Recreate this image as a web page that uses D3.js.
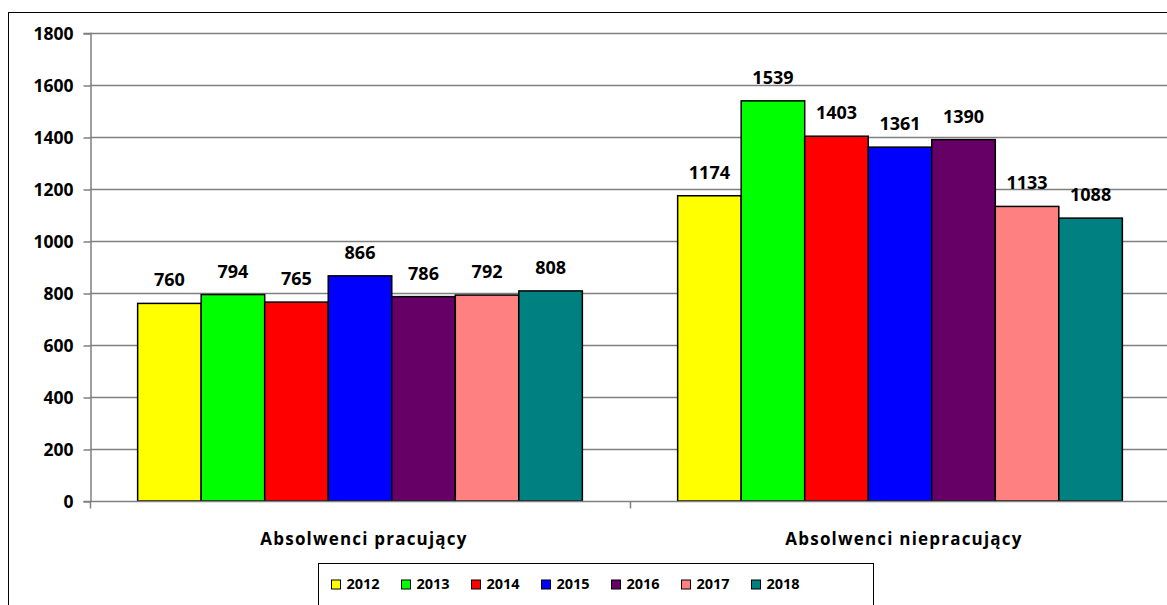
<!DOCTYPE html>
<html>
<head>
<meta charset="utf-8">
<script src="https://cdn.jsdelivr.net/npm/d3@7"></script>
<style>
  html, body { margin: 0; padding: 0; background: #fff; }
  svg { display: block; }
  text { font-family: "Open Sans", Lato, sans-serif; font-weight: bold; fill: #000; }
</style>
</head>
<body>
<svg id="chart" width="1167" height="605"></svg>
<script>
// Graduates by employment status, 2012–2018
const categories = ["Absolwenci pracujący", "Absolwenci niepracujący"];
const years = ["2012", "2013", "2014", "2015", "2016", "2017", "2018"];
const employed = [760, 794, 765, 866, 786, 792, 808];
const unemployed = [1174, 1539, 1403, 1361, 1390, 1133, 1088];
const colors = ["#FFFF00", "#00FF00", "#FF0000", "#0000FF", "#660066", "#FF8080", "#008080"];
const yTicks = [0, 200, 400, 600, 800, 1000, 1200, 1400, 1600, 1800];

const seriesByCategory = [employed, unemployed];

const svg = d3.select("#chart");

// outer frame
svg.append("rect")
  .attr("x", 8.5).attr("y", 12.5)
  .attr("width", 1200).attr("height", 700)
  .attr("fill", "none").attr("stroke", "#000").attr("stroke-width", 1);

const plotLeft = 90, plotRight = 1170, plotTop = 33, plotBottom = 501;

const y = d3.scaleLinear().domain([0, 1800]).range([plotBottom, plotTop]);
const x0 = d3.scaleBand().domain(categories).range([plotLeft, plotRight]).paddingInner(0).paddingOuter(0);
const x1 = d3.scaleBand().domain(years)
  .range([0, x0.bandwidth()])
  .paddingInner(0)
  .paddingOuter(0.75);

// horizontal gridlines
svg.append("g")
  .selectAll("line")
  .data(yTicks.filter(d => d > 0))
  .join("line")
  .attr("x1", plotLeft).attr("x2", plotRight)
  .attr("y1", d => Math.round(y(d)) + 0.5).attr("y2", d => Math.round(y(d)) + 0.5)
  .attr("stroke", "#808080").attr("stroke-width", 1.5);

// y axis
const yAxis = svg.append("g")
  .attr("transform", `translate(${plotLeft + 0.5},0)`)
  .call(d3.axisLeft(y).tickValues(yTicks).tickSize(7).tickPadding(10).tickFormat(d3.format("d")));
yAxis.select(".domain").attr("stroke", "#808080").attr("stroke-width", 1.5);
yAxis.selectAll(".tick line").attr("stroke", "#808080").attr("stroke-width", 1.5)
  .attr("transform", "translate(0,0.5)");
yAxis.selectAll(".tick text").attr("font-size", 17.5).attr("dy", "0.36em")
  .style("font-family", "'Open Sans', sans-serif").style("font-weight", "bold");

// bars
const groups = svg.append("g")
  .selectAll("g")
  .data(categories)
  .join("g")
  .attr("transform", d => `translate(${x0(d)},0)`);

groups.each(function(cat, ci) {
  const g = d3.select(this);
  const vals = seriesByCategory[ci].map((v, i) => ({ year: years[i], value: v, color: colors[i] }));
  g.selectAll("rect")
    .data(vals)
    .join("rect")
    .attr("x", d => x1(d.year))
    .attr("y", d => y(d.value))
    .attr("width", x1.bandwidth())
    .attr("height", d => plotBottom - y(d.value))
    .attr("fill", d => d.color)
    .attr("stroke", "#000")
    .attr("stroke-width", 1.5);
  g.selectAll("text")
    .data(vals)
    .join("text")
    .attr("x", d => x1(d.year) + x1.bandwidth() / 2)
    .attr("y", d => y(d.value) - 17)
    .attr("text-anchor", "middle")
    .attr("font-size", 18)
    .text(d => d.value);
});

// x axis
const xAxis = svg.append("g")
  .attr("transform", `translate(0,${plotBottom + 0.5})`);
xAxis.append("line")
  .attr("x1", plotLeft).attr("x2", plotRight)
  .attr("stroke", "#808080").attr("stroke-width", 1.5);
xAxis.selectAll("line.tick")
  .data([plotLeft, x0(categories[1]), plotRight])
  .join("line")
  .attr("class", "tick")
  .attr("x1", d => d + 0.5).attr("x2", d => d + 0.5)
  .attr("y1", 0).attr("y2", 7)
  .attr("stroke", "#808080").attr("stroke-width", 1.5);
xAxis.selectAll("text")
  .data(categories)
  .join("text")
  .attr("x", d => x0(d) + x0.bandwidth() / 2)
  .attr("dx", 4)
  .attr("y", 43.5)
  .attr("text-anchor", "middle")
  .attr("font-size", 17)
  .attr("letter-spacing", 1.2)
  .text(d => d);

// legend
const legend = svg.append("g").attr("transform", "translate(318.5,563.5)");
legend.append("rect")
  .attr("width", 555).attr("height", 60)
  .attr("fill", "#fff").attr("stroke", "#000").attr("stroke-width", 1);
const items = legend.selectAll("g.item")
  .data(years)
  .join("g")
  .attr("class", "item")
  .attr("transform", (d, i) => `translate(${13 + i * 70},0)`);
items.append("rect")
  .attr("x", 0).attr("y", 16.5)
  .attr("width", 9).attr("height", 9)
  .attr("fill", (d, i) => colors[i])
  .attr("stroke", "#000").attr("stroke-width", 1);
items.append("text")
  .attr("x", 15).attr("y", 25.5)
  .attr("font-size", 14.5)
  .text(d => d);
</script>
</body>
</html>
